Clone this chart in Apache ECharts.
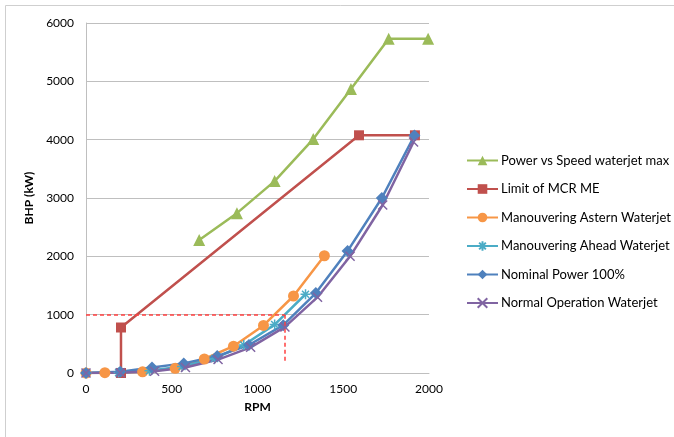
<!DOCTYPE html>
<html>
<head>
<meta charset="utf-8">
<script src="https://cdn.jsdelivr.net/npm/echarts@6/dist/echarts.min.js"></script>
<style>html,body{margin:0;padding:0;background:#fff}#c{width:674px;height:437px}</style>
</head>
<body>
<div id="c"></div>
<script>
// Data: [RPM, BHP kW]
var powerVsSpeedMax = [[660,2280],[880,2740],[1100,3290],[1325,4010],[1545,4870],[1765,5730],[1995,5730]];
var limitMCR = [[204,0],[204,780],[1592,4075],[1918,4075]];
var asternWaterjet = [[0,0],[110,5],[330,20],[520,80],[690,240],[860,460],[1035,815],[1210,1320],[1390,2010]];
var aheadWaterjet = [[0,0],[190,10],[370,40],[560,110],[750,250],[920,480],[1100,830],[1280,1350]];
var nominalPower = [[0,0],[200,20],[385,95],[570,165],[765,290],[950,480],[1150,820],[1340,1370],[1525,2090],[1725,3000],[1915,4070]];
var normalOperation = [[0,0],[200,5],[400,30],[580,95],[770,230],[960,440],[1160,790],[1350,1300],[1540,2000],[1730,2880],[1910,3960]];
var refHorizontal = [[0,1000],[1160,1000]];
var refVertical = [[1160,1000],[1160,190]];

var seriesNames = ['Power vs Speed waterjet max','Limit of MCR ME','Manouvering Astern Waterjet','Manouvering Ahead Waterjet','Nominal Power 100%','Normal Operation Waterjet'];
var xTicks = [0,500,1000,1500,2000];
var yTicks = [0,1000,2000,3000,4000,5000,6000];

var FONT = 'Lato';
var asterisk = 'path://M5,0L5,10M0,5L10,5M1.5,1.5L8.5,8.5M8.5,1.5L1.5,8.5';
var cross = 'path://M0,0L10,10M10,0L0,10';

function mk(name, data, color, symbol, size, extra) {
  var s = {
    name: name, type: 'line', data: data, color: color,
    symbol: symbol, symbolSize: size, showSymbol: true,
    lineStyle: {color: color, width: 2.5},
    itemStyle: {color: color},
    emphasis: {disabled: true},
    animation: false
  };
  if (extra) for (var k in extra) s[k] = extra[k];
  return s;
}

var dashStyle = {color: '#ff4040', type: [4,3], width: 1.5, opacity: 1};

var chart = echarts.init(document.getElementById('c'), null, {renderer: 'canvas'});
chart.setOption({
  backgroundColor: '#fff',
  animation: false,
  graphic: [{type: 'rect', shape: {x: 5.5, y: 5.5, width: 700, height: 460}, style: {fill: 'none', stroke: '#cfcfcf', lineWidth: 1}, silent: true}],
  grid: {left: 86, right: 245, top: 23, bottom: 64},
  legend: {
    orient: 'vertical', left: 461, top: 149, itemWidth: 31, itemHeight: 12, itemGap: 15.5,
    textStyle: {fontFamily: FONT, fontSize: 13, color: '#000', padding: [0,0,0,-2]},
    data: seriesNames
  },
  xAxis: {
    type: 'value', min: 0, max: 2000, interval: 500,
    name: 'RPM', nameLocation: 'middle', nameGap: 28,
    nameTextStyle: {fontFamily: FONT, fontWeight: 'bold', fontSize: 12, color: '#000'},
    axisLine: {show: true, lineStyle: {color: '#bfbfbf'}},
    axisTick: {show: false},
    axisLabel: {fontFamily: FONT, fontSize: 12, color: '#000', margin: 10,
      formatter: function (v) { return xTicks.indexOf(v) >= 0 ? String(v) : ''; }},
    splitLine: {show: false}
  },
  yAxis: {
    type: 'value', min: 0, max: 6000, interval: 1000,
    name: 'BHP (kW)', nameLocation: 'middle', nameGap: 46, nameRotate: 90,
    nameTextStyle: {fontFamily: FONT, fontWeight: 'bold', fontSize: 12, color: '#000'},
    axisLine: {show: true, lineStyle: {color: '#bfbfbf'}},
    axisTick: {show: false},
    axisLabel: {fontFamily: FONT, fontSize: 12, color: '#000', margin: 12,
      formatter: function (v) { return yTicks.indexOf(v) >= 0 ? String(v) : ''; }},
    splitLine: {show: true, lineStyle: {color: '#bfbfbf', width: 1}}
  },
  series: [
    mk(seriesNames[0], powerVsSpeedMax, '#9bbb59', 'triangle', 12),
    mk(seriesNames[1], limitMCR, '#c0504d', 'rect', 10, {
      markLine: {
        silent: true, symbol: ['none','none'], animation: false,
        label: {show: false},
        emphasis: {disabled: true},
        lineStyle: dashStyle,
        data: [
          [{coord: refHorizontal[0], lineStyle: dashStyle}, {coord: refHorizontal[1]}],
          [{coord: refVertical[0], lineStyle: dashStyle}, {coord: refVertical[1]}]
        ]
      }
    }),
    mk(seriesNames[2], asternWaterjet, '#f79646', 'circle', 11),
    mk(seriesNames[3], aheadWaterjet, '#4bacc6', asterisk, 10, {
      itemStyle: {color: '#4bacc6', borderColor: '#4bacc6', borderWidth: 1.5}
    }),
    mk(seriesNames[4], nominalPower, '#4f81bd', 'diamond', 12),
    mk(seriesNames[5], normalOperation, '#8064a2', cross, 9, {
      itemStyle: {color: '#8064a2', borderColor: '#8064a2', borderWidth: 1.5}
    })
  ]
});
</script>
</body>
</html>
